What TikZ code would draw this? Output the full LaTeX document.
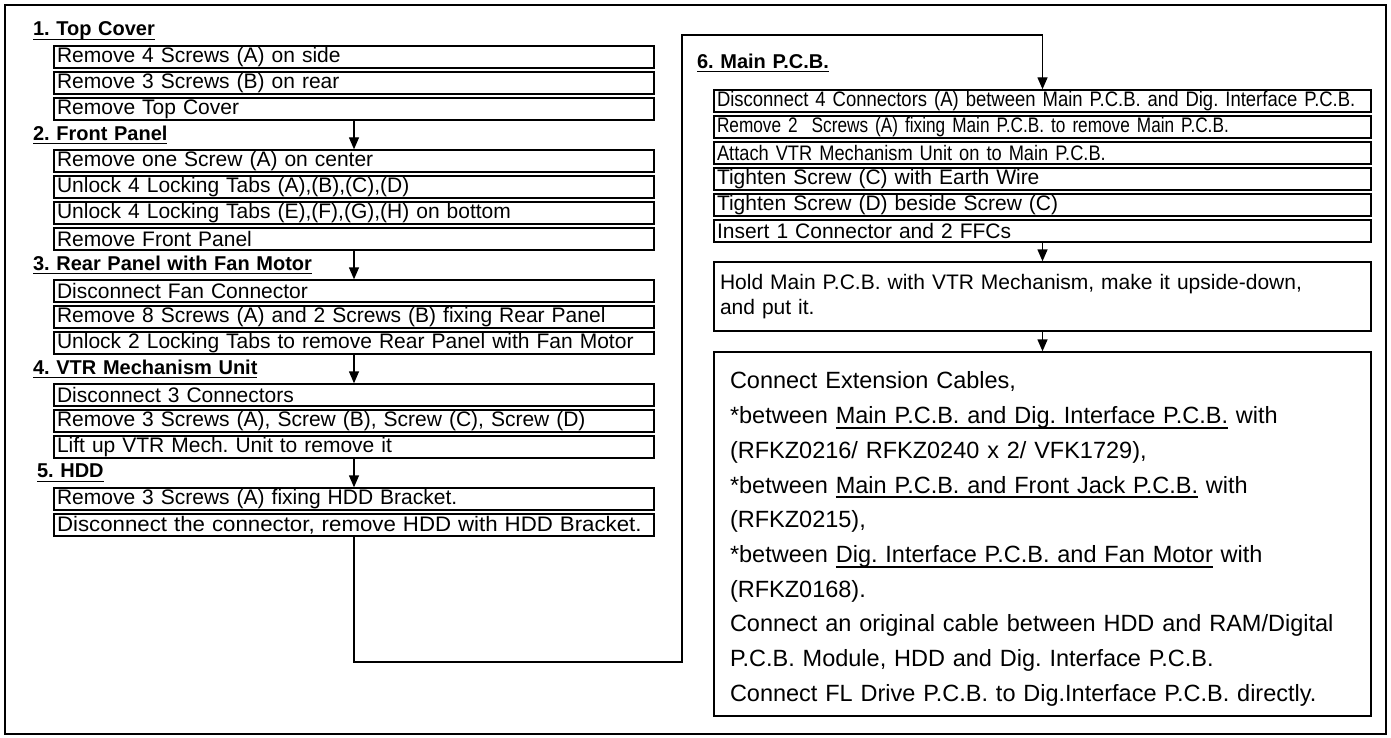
\documentclass[tikz,border=0pt]{standalone}
\usepackage{fontspec}
\setmainfont{Liberation Sans}
\usetikzlibrary{arrows.meta, positioning}
\newcommand{\undl}[1]{\leavevmode\setbox0\hbox{#1}\rlap{\rule[-0.22em]{\wd0}{0.075em}}\box0\relax}

\begin{document}
\frenchspacing
\begin{tikzpicture}[
  x=1pt, y=-1pt, line width=1.4pt,
  font=\fontsize{21}{25}\selectfont, node distance=2.6pt,
  stepbox/.style={draw, text width=#1, align=left, inner xsep=3pt,
                  inner ysep=0pt, minimum height=22pt},
  head/.style={text width=#1, align=left, inner xsep=0pt, inner ysep=0pt,
               minimum height=22pt, font=\fontsize{20}{24}\selectfont\bfseries},
  squeeze/.style={font=\fontsize{21}{25}\selectfont\addfontfeatures{FakeStretch=#1}},
  arr/.style={-{Triangle[length=12pt, width=10pt]}}]
\useasboundingbox (0,0) rectangle (1391,738);
\draw[line width=1.6pt] (5,5) rectangle (1386,734);
% left column
\node[head=642pt] (h1) at (354,31) {\undl{1. Top Cover}};
\node[stepbox=594pt, below=of h1] (top1) {Remove 4 Screws (A) on side};
\node[stepbox=594pt, below=of top1] (top2) {Remove 3 Screws (B) on rear};
\node[stepbox=594pt, below=of top2] (top3) {Remove Top Cover};
\node[head=642pt, below=of top3] (h2) {\undl{2. Front Panel}};
\node[stepbox=594pt, below=of h2] (front1) {Remove one Screw (A) on center};
\node[stepbox=594pt, below=of front1] (front2) {Unlock 4 Locking Tabs (A),(B),(C),(D)};
\node[stepbox=594pt, below=of front2] (front3) {Unlock 4 Locking Tabs (E),(F),(G),(H) on bottom};
\node[stepbox=594pt, below=of front3] (front4) {Remove Front Panel};
\node[head=642pt, below=of front4] (h3) {\undl{3. Rear Panel with Fan Motor}};
\node[stepbox=594pt, below=of h3] (rear1) {Disconnect Fan Connector};
\node[stepbox=594pt, below=of rear1] (rear2) {Remove 8 Screws (A) and 2 Screws (B) fixing Rear Panel};
\node[stepbox=594pt, below=of rear2] (rear3) {Unlock 2 Locking Tabs to remove Rear Panel with Fan Motor};
\node[head=642pt, below=of rear3] (h4) {\undl{4. VTR Mechanism Unit}};
\node[stepbox=594pt, below=of h4] (vtr1) {Disconnect 3 Connectors};
\node[stepbox=594pt, below=of vtr1] (vtr2) {Remove 3 Screws (A), Screw (B), Screw (C), Screw (D)};
\node[stepbox=594pt, below=of vtr2] (vtr3) {Lift up VTR Mech. Unit to remove it};
\node[head=642pt, below=of vtr3] (h5) {\hspace*{4pt}\undl{5. HDD}};
\node[stepbox=594pt, below=of h5] (hdd1) {Remove 3 Screws (A) fixing HDD Bracket.};
\node[stepbox=594pt, squeeze=1.06, below=of hdd1] (hdd2) {Disconnect the connector, remove HDD with HDD Bracket.};
% right column
\node[head=691pt] (h6) at (1042.5,63) {\undl{6. Main P.C.B.}};
\node[stepbox=651pt, squeeze=0.88] (main1) at (1042.5,101) {Disconnect 4 Connectors (A) between Main P.C.B. and Dig. Interface P.C.B.};
\node[stepbox=651pt, squeeze=0.82, below=of main1] (main2) {Remove 2\ \ Screws (A) fixing Main P.C.B. to remove Main P.C.B.};
\node[stepbox=651pt, squeeze=0.87, below=of main2] (main3) {Attach VTR Mechanism Unit on to Main P.C.B.};
\node[stepbox=651pt, below=of main3] (main4) {Tighten Screw (C) with Earth Wire};
\node[stepbox=651pt, below=of main4] (main5) {Tighten Screw (D) beside Screw (C)};
\node[stepbox=651pt, below=of main5] (main6) {Insert 1 Connector and 2 FFCs};
\node[stepbox=645pt, inner xsep=6pt, minimum height=69pt, below=18.6pt of main6] (flip)
  {Hold Main P.C.B. with VTR Mechanism, make it upside-down,\\ and put it.};
\node[stepbox=625pt, inner xsep=16pt, minimum height=364pt, below=19.6pt of flip,
  font=\fontsize{23.5}{34.7}\selectfont] (cables)
  {\rule{0pt}{27pt}Connect Extension Cables,\\
   {*}between \undl{Main P.C.B. and Dig. Interface P.C.B.} with\\
   (RFKZ0216/ RFKZ0240 x 2/ VFK1729),\\
   {*}between \undl{Main P.C.B. and Front Jack P.C.B.} with\\
   (RFKZ0215),\\
   {*}between \undl{Dig. Interface P.C.B. and Fan Motor} with\\
   (RFKZ0168).\\
   Connect an original cable between HDD and RAM/Digital\\
   P.C.B. Module, HDD and Dig. Interface P.C.B.\\
   Connect FL Drive P.C.B. to Dig.Interface P.C.B. directly.};
% connectors
\coordinate (lowturn) at (682,662);
\coordinate (upturn) at (682,35);
\draw[arr] (top3) -- (front1);
\draw[arr] (front4) -- (rear1);
\draw[arr] (rear3) -- (vtr1);
\draw[arr] (vtr3) -- (hdd1);
\draw[arr] (hdd2.south) |- (lowturn) -- (upturn) -| (main1.north);
\draw[arr] (main6) -- (flip);
\draw[arr] (flip) -- (cables);
\end{tikzpicture}
\end{document}
